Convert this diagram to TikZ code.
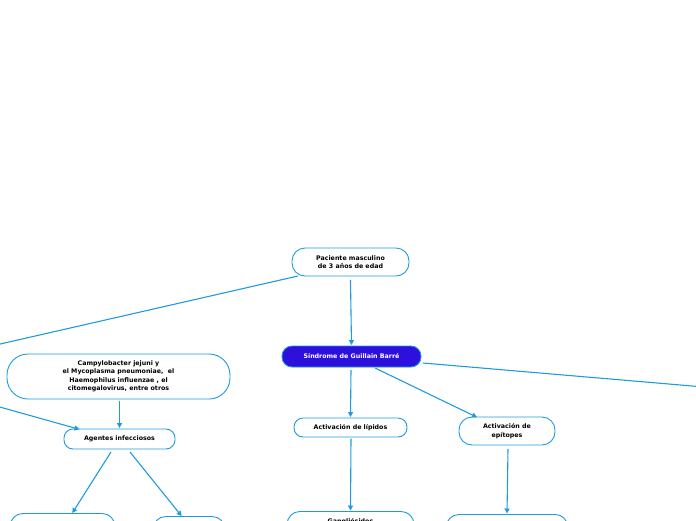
\documentclass[tikz,border=0pt]{standalone}
\usepackage{fontspec}
\setmainfont{DejaVu Sans}
\usetikzlibrary{arrows.meta}
\definecolor{edge}{HTML}{1E9BE0}
\definecolor{mainfill}{HTML}{2E10DC}
\tikzset{
  x=1pt, y=-1pt,
  box/.style={draw=edge, line width=0.9pt, fill=white, align=center, inner sep=0pt,
    font=\fontsize{6.3}{8.5}\selectfont\bfseries},
  link/.style={draw=edge, line width=1.1pt, -{Triangle[length=5pt,width=5pt]}, shorten >=0.5pt},
  plain/.style={draw=edge, line width=1.1pt},
}
\begin{document}
\begin{tikzpicture}
\useasboundingbox (0,0) rectangle (696,520);
\clip (0,0) rectangle (696,520);
% nodes
\node[box, minimum width=117pt, minimum height=28pt, rounded corners=13pt] (pac) at (350.5,262) {Paciente masculino\\de 3 años de edad};
\node[box, fill=mainfill, text=white, minimum width=139pt, minimum height=21pt, rounded corners=10pt] (sgb) at (351.5,356.5) {Síndrome de Guillain Barré};
\node[box, minimum width=223pt, minimum height=45pt, rounded corners=21pt] (camp) at (118.5,376.5) {Campylobacter jejuni y\\el Mycoplasma pneumoniae,\ \ el\\Haemophilus influenzae , el\\citomegalovirus, entre otros};
\node[box, minimum width=111pt, minimum height=20pt, rounded corners=9pt] (agen) at (119.5,439) {Agentes infecciosos};
\node[box, minimum width=113pt, minimum height=19pt, rounded corners=9pt] (lip) at (350.5,427.5) {Activación de lípidos};
\node[box, minimum width=96pt, minimum height=28pt, rounded corners=13pt] (epi) at (507,431) {Activación de\\epítopes};
\node[box, minimum width=127pt, minimum height=30pt, rounded corners=13pt, anchor=north] (gang) at (350.5,511) {\raisebox{-6pt}{Gangliósidos}\\[2pt]\strut};
\node[box, minimum width=122pt, minimum height=30pt, rounded corners=13pt, anchor=north] (epib) at (507,514) {};
\node[box, minimum width=105pt, minimum height=30pt, rounded corners=13pt, anchor=north] (agl) at (62.5,513) {};
\node[box, minimum width=72pt, minimum height=30pt, rounded corners=13pt, anchor=north] (agr) at (189,516) {};
% free ends
\coordinate (offl1) at (-2,344.5);
\coordinate (offl2) at (-2,406.5);
\coordinate (offr) at (698,386.5);
% connectors
\draw[plain] (298,276) -- (offl1);
\draw[link] (350.5,280) -- (sgb.north);
\draw[plain] (423,363) -- (offr);
\draw[link] (351,370) -- (lip.north);
\draw[link] (375,368) -- (477.5,417.5);
\draw[link] (351,438.5) -- (gang.north);
\draw[link] (508,449) -- (epib.north);
\draw[link] (119.5,400.5) -- (agen.north);
\draw[link] (offl2) -- (80,429.5);
\draw[link] (111,452) -- (72,513.5);
\draw[link] (130,452) -- (182,516.5);
\end{tikzpicture}
\end{document}
